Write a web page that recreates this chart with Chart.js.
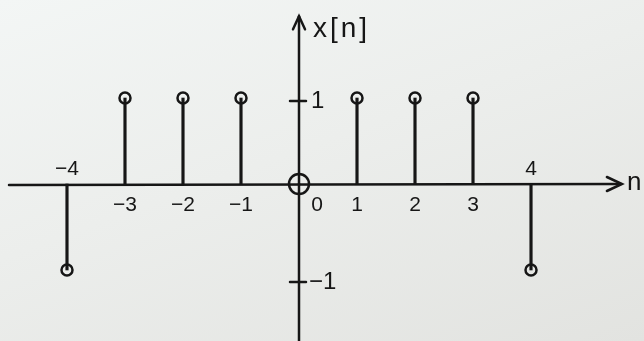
<!DOCTYPE html>
<html>
<head>
<meta charset="utf-8">
<script src="https://cdn.jsdelivr.net/npm/chart.js@4/dist/chart.umd.min.js"></script>
<style>
  html, body { margin: 0; padding: 0; }
  body {
    width: 644px; height: 341px; overflow: hidden;
    background: linear-gradient(160deg, #f3f6f5 0%, #eceeec 45%, #e2e3e0 100%);
  }
  #wrap { position: relative; width: 644px; height: 341px; }
</style>
</head>
<body>
<div id="wrap"><canvas id="c" width="644" height="341"></canvas></div>
<script>
// Discrete-time signal x[n]
const nValues = [-4, -3, -2, -1, 0, 1, 2, 3, 4];
const xValues = [-1, 1, 1, 1, 0, 1, 1, 1, -1];
const xTickLabels = ['\u22124', '\u22123', '\u22122', '\u22121', '0', '1', '2', '3', '4'];
const yTickValues = [1, -1];
const yTickLabels = ['1', '\u22121'];

const INK = '#161616';
const HAND = '"Liberation Sans", "DejaVu Sans", sans-serif';

const points = nValues.map((n, i) => ({ x: n, y: xValues[i] }));

// Hand-style axes with arrows, tick marks and labels
const axesPlugin = {
  id: 'axesPlugin',
  beforeDatasetsDraw(chart) {
    const { ctx, scales: { x, y } } = chart;
    const x0 = x.getPixelForValue(0);
    const y0 = y.getPixelForValue(0);
    ctx.save();
    ctx.strokeStyle = INK;
    ctx.fillStyle = INK;
    ctx.lineWidth = 2.5;
    ctx.lineCap = 'round';

    // horizontal axis with arrow
    const xl = x.getPixelForValue(-5.0);
    const xr = x.getPixelForValue(5.55);
    ctx.beginPath();
    ctx.moveTo(xl, y0 + 1);
    ctx.lineTo(xr, y0);
    ctx.stroke();
    ctx.beginPath();
    ctx.moveTo(xr - 14, y0 - 7);
    ctx.lineTo(xr + 1, y0);
    ctx.lineTo(xr - 14, y0 + 7);
    ctx.stroke();

    // vertical axis with arrow
    const yt = y.getPixelForValue(1.95);
    const yb = y.getPixelForValue(-1.9);
    ctx.beginPath();
    ctx.moveTo(x0, yb);
    ctx.lineTo(x0, yt);
    ctx.stroke();
    ctx.beginPath();
    ctx.moveTo(x0 - 6, yt + 13);
    ctx.lineTo(x0, yt);
    ctx.lineTo(x0 + 6, yt + 13);
    ctx.stroke();

    // y tick marks and labels
    ctx.font = '24px ' + HAND;
    ctx.textBaseline = 'middle';
    ctx.textAlign = 'left';
    yTickValues.forEach((v, i) => {
      const py = y.getPixelForValue(v) + (v < 0 ? 12 : 3);
      ctx.beginPath();
      ctx.moveTo(x0 - 9, py);
      ctx.lineTo(x0 + 7, py);
      ctx.stroke();
      ctx.fillText(yTickLabels[i], x0 + (v < 0 ? 10 : 12), py);
    });

    // n tick labels: above the axis where the sample is negative
    ctx.font = '21px ' + HAND;
    ctx.textAlign = 'center';
    nValues.forEach((n, i) => {
      let px = x.getPixelForValue(n);
      let py = xValues[i] < 0 ? y0 - 15 : y0 + 21;
      if (n === 0) { px += 18; }
      ctx.fillText(xTickLabels[i], px, py);
    });

    // axis titles
    ctx.font = '28px ' + HAND;
    ctx.textAlign = 'left';
    ctx.letterSpacing = '3px';
    ctx.fillText('x[n]', x0 + 14, yt + 13);
    ctx.letterSpacing = '0px';
    ctx.font = '26px ' + HAND;
    ctx.fillText('n', xr + 6, y0 - 1);
    ctx.restore();
  }
};

new Chart(document.getElementById('c'), {
  data: {
    datasets: [
      {
        type: 'bar',
        label: 'stem',
        data: points,
        backgroundColor: INK,
        borderWidth: 0,
        barThickness: 2.5,
        order: 2
      },
      {
        type: 'scatter',
        label: 'x[n]',
        data: points,
        pointStyle: 'circle',
        pointRadius: (c) => (c.raw && c.raw.y === 0 ? 10 : 5.5),
        pointBorderWidth: 2.5,
        pointBorderColor: INK,
        pointBackgroundColor: 'rgba(0,0,0,0)',
        order: 1
      }
    ]
  },
  options: {
    responsive: false,
    animation: false,
    layout: { padding: 0, autoPadding: false },
    plugins: { legend: { display: false }, tooltip: { enabled: false } },
    scales: {
      x: { type: 'linear', min: -5.155, max: 5.948, offset: false, display: false },
      y: { type: 'linear', min: -1.826, max: 2.14, display: false }
    }
  },
  plugins: [axesPlugin]
});
</script>
</body>
</html>
